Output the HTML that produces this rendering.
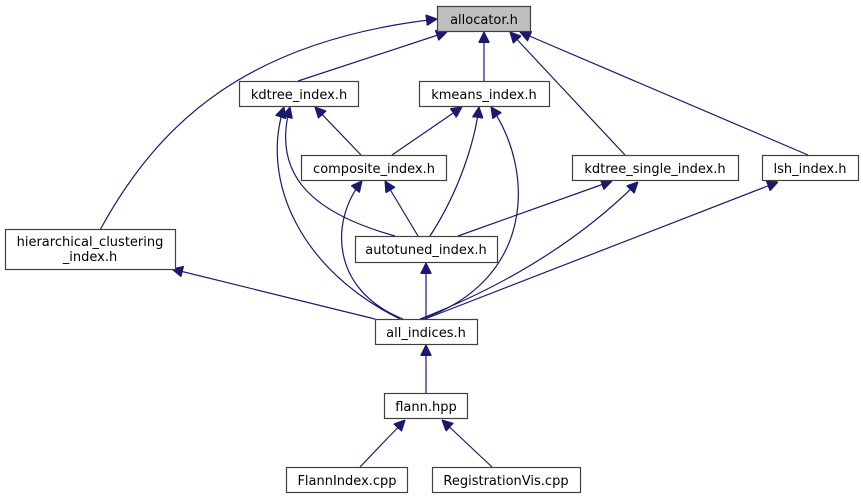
<!DOCTYPE html>
<html><head><meta charset="utf-8"><style>
html,body{margin:0;padding:0;background:#fff;width:863px;height:500px;overflow:hidden}
svg text{font-family:"DejaVu Sans","Liberation Sans",sans-serif;font-size:13px;fill:#000}
</style></head><body>
<svg width="863" height="500" viewBox="0 0 863 500" xmlns="http://www.w3.org/2000/svg">
<defs>
<marker id="a" viewBox="0 0 10 10" refX="10" refY="5" markerWidth="11" markerHeight="11" markerUnits="userSpaceOnUse" orient="auto">
<path d="M0,0 L10,5 L0,10 z" fill="#191970" stroke="#191970"/>
</marker>
</defs>
<g fill="none" stroke="#191970" stroke-width="1.2" marker-end="url(#a)">
<path d="M100,230 C160,120 250,40 437,19"/>
<path d="M298,81 L447,32"/>
<path d="M484,81 L484,32"/>
<path d="M625,155 L510,32"/>
<path d="M808,155 L520,32"/>
<path d="M361,155 L315,107"/>
<path d="M392,155 L462,107"/>
<path d="M418,236 L385,181"/>
<path d="M395,236 C320,215 270,180 290,107"/>
<path d="M430,236 C460,190 475,140 479,107"/>
<path d="M458,236 L612,181"/>
<path d="M400,319 C300,270 260,180 284,107"/>
<path d="M403,319 C330,290 330,220 362,181"/>
<path d="M422,319 C535,280 535,170 491,107"/>
<path d="M420,319 C520,280 590,230 638,182"/>
<path d="M425,319 L778,182"/>
<path d="M375,319 L172,269"/>
<path d="M426,319 L426,263"/>
<path d="M426,393 L426,345"/>
<path d="M360,467 L405,420"/>
<path d="M492,467 L442,420"/>
</g>
<g stroke="#404040" stroke-width="1.2" fill="#fff">
<rect x="437.5" y="6.5" width="93" height="25" fill="#bfbfbf"/>
<rect x="239.5" y="81.5" width="119" height="25"/>
<rect x="419.5" y="81.5" width="130" height="25"/>
<rect x="301.5" y="155.5" width="145" height="25"/>
<rect x="572.5" y="155.5" width="166" height="25"/>
<rect x="762.5" y="155.5" width="96" height="25"/>
<rect x="5.5" y="229.5" width="170" height="40"/>
<rect x="355.5" y="236.5" width="142" height="26"/>
<rect x="375.5" y="319.5" width="102" height="25"/>
<rect x="384.5" y="393.5" width="83" height="25"/>
<rect x="286.5" y="467.5" width="121" height="25"/>
<rect x="432.5" y="467.5" width="148" height="25"/>
</g>
<g text-anchor="middle">
<text x="484" y="24">allocator.h</text>
<text x="299" y="99">kdtree_index.h</text>
<text x="484" y="99">kmeans_index.h</text>
<text x="374" y="173">composite_index.h</text>
<text x="655" y="173">kdtree_single_index.h</text>
<text x="810" y="173">lsh_index.h</text>
<text x="90" y="246">hierarchical_clustering</text>
<text x="90" y="261">_index.h</text>
<text x="426" y="254">autotuned_index.h</text>
<text x="426" y="337">all_indices.h</text>
<text x="426" y="411">flann.hpp</text>
<text x="347" y="485">FlannIndex.cpp</text>
<text x="506" y="485">RegistrationVis.cpp</text>
</g>
</svg>
</body></html>
